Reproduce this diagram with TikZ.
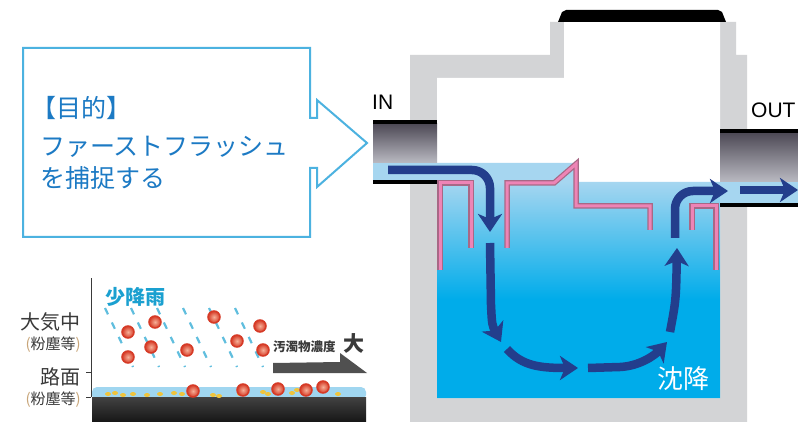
\documentclass[tikz,border=0pt]{standalone}
\usepackage{fontspec}
\setmainfont{Liberation Sans}
\newfontfamily\jpfont{Noto Sans CJK JP}
\usetikzlibrary{arrows.meta}
\definecolor{watertop}{RGB}{166,214,240}
\definecolor{waterdeep}{RGB}{0,172,234}
\pgfdeclareverticalshading{tankwater}{100bp}{color(0bp)=(waterdeep); color(46bp)=(waterdeep); color(71bp)=(watertop); color(100bp)=(watertop)}
\begin{document}
\begin{tikzpicture}[x=1pt,y=-1pt]
\newcommand{\jpsize}[1]{\jpfont\fontsize{#1}{#1}\selectfont}
\definecolor{wallgray}{RGB}{211,212,214}
\definecolor{pipetop}{RGB}{78,74,86}
\definecolor{pipebot}{RGB}{186,186,194}
\definecolor{baffleedge}{RGB}{168,104,134}
\definecolor{bafflepink}{RGB}{238,132,182}
\definecolor{flowblue}{RGB}{35,62,140}
\definecolor{calloutblue}{RGB}{76,178,224}
\definecolor{purposeblue}{RGB}{28,122,196}
\definecolor{raincyan}{RGB}{96,190,222}
\definecolor{labelcyan}{RGB}{26,160,208}
\definecolor{labelgray}{RGB}{58,58,58}
\definecolor{brackettan}{RGB}{200,165,120}
\definecolor{dustred}{RGB}{214,58,38}
\definecolor{dustcore}{RGB}{246,176,152}
\definecolor{speckyellow}{RGB}{240,196,60}
\definecolor{filmblue}{RGB}{160,214,240}
\definecolor{groundtop}{RGB}{66,66,66}
\definecolor{groundbot}{RGB}{22,22,22}
\definecolor{wedgegray}{RGB}{80,80,80}
\tikzstyle{wall}=[fill=wallgray]
\tikzstyle{pipe}=[top color=pipetop,bottom color=pipebot]
\tikzstyle{pipeline}=[line width=4pt]
\tikzstyle{baffle}=[draw=baffleedge,line width=5.5pt,postaction={draw=bafflepink,line width=3pt}]
\tikzstyle{flow}=[draw=flowblue,line width=8.5pt,-{Stealth[length=18pt,width=24pt,inset=5pt]}]
\tikzstyle{purpose}=[font=\jpsize{25},text=purposeblue,anchor=base west,inner sep=0pt]
\tikzstyle{pipelabel}=[font=\fontsize{21}{21}\selectfont,anchor=base west,inner sep=0pt]
\tikzstyle{axislabel}=[font=\jpsize{20},text=labelgray,anchor=base east,inner sep=0pt]
\tikzstyle{dustnote}=[font=\jpsize{15},text=labelgray,anchor=base east,inner sep=0pt]
\tikzstyle{rainline}=[raincyan,line width=2.2pt,dash pattern=on 7pt off 9pt]
\tikzstyle{dust}=[circle,minimum size=12pt,inner sep=0pt,draw=dustred,line width=1.5pt,inner color=dustcore,outer color=dustred]
\tikzstyle{speck}=[fill=speckyellow]
\fill[white] (0,0) rectangle (798,422);
\useasboundingbox (0,0) rectangle (798,422);
% tank body
\fill[wall] (410,422) -- (410,55) -- (550,55) -- (550,22) -- (736,22) -- (736,55) -- (747,55) -- (747,422) -- cycle;
\fill[white] (437,398) -- (437,78) -- (564,78) -- (564,22) -- (720,22) -- (720,398) -- cycle;
\fill[black] (558,22) -- (562,12) -- (566,10) -- (718,10) -- (722,12) -- (726,22) -- cycle;
\shade[shading=tankwater] (437,163) -- (577,163) -- (577,182) -- (720,182) -- (720,398) -- (437,398) -- cycle;
% pipes
\fill[pipe] (373,124) rectangle (437,163);
\fill[watertop] (373,163) rectangle (437,181);
\draw[pipeline] (373,122) -- (437,122);
\draw[pipeline] (373,182) -- (437,182);
\fill[pipe] (720,133) rectangle (798,182);
\fill[watertop] (720,182) rectangle (798,204);
\draw[pipeline] (720,131) -- (798,131);
\draw[pipeline] (720,205) -- (798,205);
% baffles
\draw[baffle] (440,270) -- (440,183) -- (471,183) -- (471,248);
\draw[baffle] (507,248) -- (507,183) -- (554,183) -- (576,164) -- (576,206) -- (650,206) -- (650,230);
\draw[baffle] (692,230) -- (692,206) -- (716,206) -- (716,270);
% flow path
\coordinate (f0) at (388,170);
\coordinate (f1) at (490,232);
\coordinate (f2) at (490,243);
\coordinate (f3) at (501,342);
\coordinate (f4) at (507,349);
\coordinate (f5) at (578,368);
\coordinate (f6) at (588,368);
\coordinate (f7) at (667,342);
\coordinate (f8) at (670,332);
\coordinate (f9) at (677,248);
\coordinate (f10) at (675,238);
\coordinate (f11) at (728,191);
\coordinate (f12) at (740,190);
\coordinate (f13) at (798,190);
\draw[flow,rounded corners=18pt] (f0) -- (490,170) -- (f1);
\draw[flow] (f2) -- (491,305) .. controls (492,325) .. (f3);
\draw[flow] (f4) .. controls (522,366) and (540,368) .. (f5);
\draw[flow] (f6) -- (620,367) .. controls (640,366) and (655,355) .. (f7);
\draw[flow] (f8) .. controls (676,300) .. (f9);
\draw[flow,rounded corners=18pt] (f10) -- (675,191) -- (f11);
\draw[flow] (f12) -- (f13);
\node[pipelabel] (inlabel) at (372,110) {IN};
\node[pipelabel] (outlabel) at (751,118) {OUT};
\node[font=\jpsize{26},text=white,anchor=base west,inner sep=0pt] (settle) at (657,388) {沈降};
% purpose callout
\draw[calloutblue,line width=2pt] (23,48) -- (310,48) -- (310,118) -- (317,118) -- (317,100) -- (367,143) -- (317,187) -- (317,168) -- (310,168) -- (310,237) -- (23,237) -- cycle;
\node[purpose] (goal) at (31,118) {【目的】};
\node[purpose] (goal2) at (40,156) {ファーストフラッシュ};
\node[purpose] (goal3) at (40,188) {を捕捉する};
% light rain sketch
\draw[labelgray,line width=1pt] (91,278) -- (91,397);
\draw[labelgray,line width=1pt] (86,372) -- (91,372);
\draw[labelgray,line width=1pt] (86,397) -- (91,397);
\fill[filmblue,rounded corners=5pt] (92,400) -- (92,387) -- (366,387) -- (366,400) -- cycle;
\shade[top color=groundtop,bottom color=groundbot] (92,397) rectangle (366,422);
\fill[speck] (108,394) ellipse (3pt and 2pt);
\fill[speck] (115,393) ellipse (3pt and 2pt);
\fill[speck] (123,395) ellipse (3pt and 2pt);
\fill[speck] (133,394) ellipse (3pt and 2pt);
\fill[speck] (147,395) ellipse (3pt and 2pt);
\fill[speck] (160,394) ellipse (3pt and 2pt);
\fill[speck] (174,393) ellipse (3pt and 2pt);
\fill[speck] (182,394) ellipse (3pt and 2pt);
\fill[speck] (213,395) ellipse (3pt and 2pt);
\fill[speck] (219,396) ellipse (3pt and 2pt);
\fill[speck] (240,394) ellipse (3pt and 2pt);
\fill[speck] (263,392) ellipse (3pt and 2pt);
\fill[speck] (268,394) ellipse (3pt and 2pt);
\fill[speck] (292,393) ellipse (3pt and 2pt);
\fill[speck] (297,390) ellipse (3pt and 2pt);
\fill[speck] (338,394) ellipse (3pt and 2pt);
\draw[rainline] (105,308) -- ++(28,59);
\draw[rainline] (131,308) -- ++(28,59);
\draw[rainline] (157,308) -- ++(28,59);
\draw[rainline] (183,308) -- ++(28,59);
\draw[rainline] (209,308) -- ++(28,59);
\draw[rainline] (235,308) -- ++(28,59);
\node[dust] (p1) at (128,332) {};
\node[dust] (p2) at (155,322) {};
\node[dust] (p3) at (214,317) {};
\node[dust] (p4) at (260,326) {};
\node[dust] (p5) at (151,347) {};
\node[dust] (p6) at (187,350) {};
\node[dust] (p7) at (237,341) {};
\node[dust] (p8) at (263,350) {};
\node[dust] (p9) at (128,357) {};
\node[dust] (p10) at (193,391) {};
\node[dust] (p11) at (243,390) {};
\node[dust] (p12) at (278,389) {};
\node[dust] (p13) at (306,390) {};
\node[dust] (p14) at (323,387) {};
\node[font=\jpsize{20}\bfseries,text=labelcyan,anchor=base west,inner sep=0pt] (rain) at (105,304) {少降雨};
\node[axislabel] (air) at (81,329) {大気中};
\node[dustnote] (airnote) at (81,349) {\textcolor{brackettan}{(}粉塵等\textcolor{brackettan}{)}};
\node[axislabel] (road) at (81,384) {路面};
\node[dustnote] (roadnote) at (81,404) {\textcolor{brackettan}{(}粉塵等\textcolor{brackettan}{)}};
\fill[wedgegray] (273,363) -- (340,362) -- (340,353) -- (367,373) -- (273,373) -- cycle;
\node[font=\jpsize{12.5}\bfseries,text=labelgray,anchor=base west,inner sep=0pt] (load) at (273,351) {汚濁物濃度};
\node[font=\jpsize{21}\bfseries,text=labelgray,anchor=base west,inner sep=0pt] (high) at (343,351) {大};
\end{tikzpicture}
\end{document}
